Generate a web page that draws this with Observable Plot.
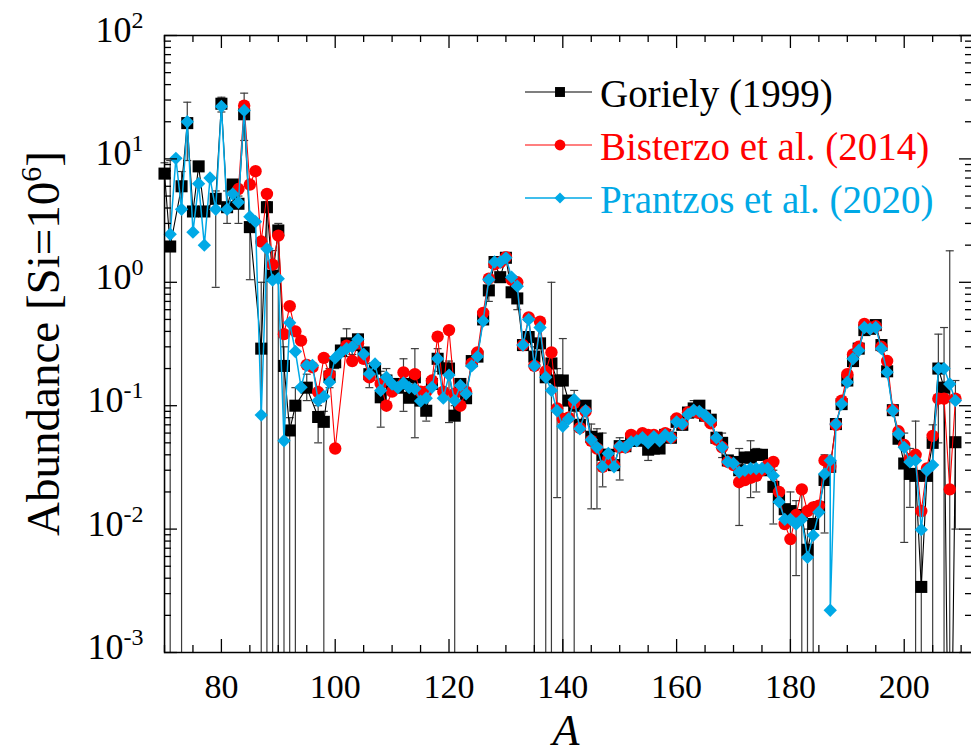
<!DOCTYPE html>
<html><head><meta charset="utf-8">
<script src="https://cdn.jsdelivr.net/npm/d3@7"></script>
<script src="https://cdn.jsdelivr.net/npm/@observablehq/plot@0.6"></script>
<style>
body{margin:0;background:#fff;}
#chart{width:971px;height:756px;overflow:hidden;}
svg{font-family:"Liberation Serif","Times New Roman",serif;}
</style></head><body><div id="chart"></div>
<script>
// ---- Goriely (1999) ----
const gA = [70,71,73,74,75,76,77,79,80,81,
  82,83,84,85,87,88,89,90,91,92,
  93,95,97,98,99,100,101,102,103,104,
  105,106,107,108,109,110,111,112,113,114,
  115,116,117,118,119,120,121,122,123,124,
  125,126,127,128,129,130,131,132,133,134,
  135,136,137,138,139,140,141,142,143,144,
  145,146,147,148,149,150,151,152,153,154,
  155,156,157,158,159,160,161,162,163,164,
  165,166,167,168,169,170,171,172,173,174,
  175,176,177,178,179,180,181,182,183,184,
  185,186,187,188,189,190,191,192,193,194,
  195,196,197,198,199,200,201,202,203,204,
  205,206,207,208,209];
const gV = [7.6,1.95,6.0,19.5,3.75,8.7,3.75,4.75,28,4.06,
  6.2,4.33,23,2.8,0.29,4.06,1.13,2.63,0.21,0.063,
  0.1,0.14,0.081,0.074,0.172,0.225,0.28,0.32,0.31,0.345,
  0.27,0.18,0.2,0.117,0.16,0.15,0.14,0.15,0.116,0.17,
  0.11,0.091,0.15,0.24,0.2,0.2,0.083,0.15,0.115,0.23,
  0.25,0.5,0.86,1.46,1.1,1.58,0.83,0.74,0.31,0.36,
  0.25,0.32,0.17,0.22,0.16,0.16,0.11,0.1,0.07,0.1,
  0.056,0.054,0.04,0.04,0.033,0.047,0.047,0.052,0.052,0.054,
  0.044,0.045,0.045,0.058,0.055,0.074,0.07,0.088,0.095,0.1,
  0.083,0.077,0.055,0.05,0.036,0.035,0.03,0.038,0.038,0.04,
  0.04,0.03,0.022,0.018,0.0145,0.014,0.013,0.013,0.0068,0.011,
  0.015,0.025,0.032,0.071,0.103,0.16,0.23,0.29,0.41,0.42,
  0.45,0.31,0.19,0.092,0.054,0.034,0.028,0.027,0.0034,0.027,
  0.05,0.2,0.14,0.00001,0.0506];
// Goriely uncertainties (lower, upper)
const eA = [70,71,73,74,79,80,81,83,84,85,
  87,88,89,90,91,92,93,95,97,98,
  99,100,102,103,106,108,109,112,114,116,
  118,120,121,127,129,132,135,137,138,139,
  140,142,145,146,147,150,155,163,168,171,
  173,174,177,180,181,182,183,184,186,200,
  201,202,203,205,206,207,208,209];
const eLo = [1e-5,1e-5,1e-5,9.7,0.91,24,3.0,3.0,14.1,1.05,
  1e-5,1e-5,1e-5,1e-5,1e-5,1e-5,1e-5,0.11,0.05,1e-5,
  0.14,0.2,0.25,0.26,0.14,0.067,0.14,0.09,0.055,0.075,
  0.19,0.073,1e-5,0.7,1.0,0.6,1e-5,1e-5,1e-5,0.018,
  1e-5,1e-5,0.0146,0.0146,0.022,0.025,0.036,0.08,0.038,0.0107,
  0.018,0.02,0.011,1e-5,0.0042,1e-5,1e-5,1e-5,0.0093,0.0078,
  0.015,1e-5,1e-5,1e-5,0.05,1e-5,1e-5,0.01];
const eHi = [9.3,9.7,7.9,28.8,5.5,31.6,5.5,5.0,34.1,3.5,
  1.0,4.5,1.81,3.0,0.3,0.08,0.14,0.18,0.1,0.09,
  0.2,0.25,0.42,0.35,0.22,0.19,0.2,0.24,0.29,0.11,
  0.29,0.23,0.1,1.0,1.2,0.9,0.3,0.2,1.0,0.2,
  0.35,0.133,0.071,0.065,0.06,0.055,0.05,0.11,0.06,0.045,
  0.052,0.045,0.03,0.02,0.017,0.02,0.01,0.015,0.04,0.06,
  0.045,0.075,0.01,0.07,0.38,0.43,1.8,0.16];
// ---- Bisterzo et al. (2014) ----
const bA = [83,84,85,86,87,88,89,90,91,92,
  93,94,95,96,97,98,99,100,102,103,
  104,105,106,108,109,110,112,114,115,116,
  117,118,119,120,121,122,123,124,125,126,
  127,128,129,130,131,132,133,134,135,136,
  137,138,139,140,141,142,143,144,145,146,
  147,148,149,150,151,152,153,154,155,156,
  157,158,159,160,161,162,163,164,165,166,
  167,168,169,170,171,172,173,174,175,176,
  177,178,179,180,181,182,183,184,185,186,
  187,188,189,190,191,192,193,194,195,196,
  197,198,199,200,201,202,203,204,205,206,
  207,208,209];
const bV = [5.7,27,6.2,7.95,2.14,5.2,1.39,2.39,0.38,0.64,
  0.40,0.337,0.214,0.205,0.129,0.244,0.179,0.045,0.307,0.23,
  0.32,0.24,0.17,0.15,0.1,0.13,0.186,0.18,0.13,0.13,
  0.16,0.363,0.13,0.41,0.125,0.10,0.13,0.22,0.27,0.565,
  1.07,1.4,1.45,1.6,1.05,1.0,0.31,0.52,0.21,0.48,
  0.19,0.27,0.095,0.078,0.08,0.105,0.066,0.09,0.052,0.045,
  0.032,0.037,0.033,0.046,0.046,0.058,0.055,0.06,0.058,0.058,
  0.054,0.06,0.055,0.079,0.071,0.088,0.09,0.087,0.082,0.072,
  0.053,0.046,0.035,0.033,0.024,0.025,0.026,0.027,0.03,0.033,
  0.035,0.02,0.011,0.0083,0.013,0.021,0.014,0.015,0.0155,0.036,
  0.032,0.07,0.11,0.18,0.26,0.30,0.46,0.43,0.44,0.30,
  0.23,0.093,0.062,0.048,0.037,0.04,0.014,0.031,0.057,0.114,
  0.114,0.021,0.114];
// ---- Prantzos et al. (2020) ----
const pA = [71,72,73,74,75,76,77,78,79,80,
  81,82,83,84,85,86,87,88,89,90,
  91,92,93,94,95,96,97,98,99,100,
  101,102,103,104,105,106,107,108,109,110,
  111,112,113,114,115,116,117,118,119,120,
  121,122,123,124,125,126,127,128,129,130,
  131,132,133,134,135,136,137,138,139,140,
  141,142,143,144,145,146,147,148,149,150,
  151,152,153,154,155,156,157,158,159,160,
  161,162,163,164,165,166,167,168,169,170,
  171,172,173,174,175,176,177,178,179,180,
  181,182,183,184,185,186,187,187,188,189,
  190,191,192,193,194,195,196,197,198,199,
  200,201,202,203,204,205,206,207,208,209];
const pV = [2.45,10.1,3.9,20,2.55,6.3,2.0,7.0,3.9,26.6,
  3.9,5.2,4.45,24.7,3.4,3.1,0.084,1.87,1.04,1.07,
  0.052,0.47,0.275,0.141,0.212,0.212,0.11,0.119,0.155,0.244,
  0.27,0.29,0.30,0.345,0.262,0.181,0.218,0.133,0.17,0.15,
  0.14,0.153,0.14,0.137,0.109,0.115,0.141,0.24,0.115,0.177,
  0.11,0.146,0.125,0.21,0.25,0.485,1.05,1.46,1.46,1.58,
  1.1,0.93,0.31,0.5,0.21,0.43,0.17,0.133,0.091,0.068,
  0.078,0.112,0.065,0.091,0.053,0.046,0.032,0.041,0.032,0.047,
  0.046,0.051,0.052,0.055,0.05,0.056,0.052,0.058,0.055,0.074,
  0.071,0.085,0.092,0.09,0.084,0.076,0.055,0.046,0.035,0.034,
  0.029,0.03,0.031,0.031,0.031,0.031,0.027,0.0166,0.012,0.012,
  0.011,0.012,0.0059,0.0089,0.0137,0.028,0.036,0.0022,0.071,0.103,
  0.155,0.24,0.28,0.43,0.42,0.43,0.29,0.187,0.091,0.059,
  0.046,0.035,0.036,0.0099,0.03,0.033,0.2,0.2,0.15,0.11];

// ---- ticks & labels ----
const xMajor = [80,100,120,140,160,180,200];
const xMinor = [70,75,85,90,95,105,110,115,125,130,135,145,150,155,165,170,175,185,190,195,205,210];
const yMajor = [1e-3,1e-2,1e-1,1e0,1e1,1e2];
const yMinorFactors = [2,3,4,5,6,7,8,9];
const legendLabels = ["Goriely (1999)","Bisterzo et al. (2014)","Prantzos et al. (2020)"];
const xTitle = "A";
const yTitle = "Abundance [Si=10";

const RED = "#ff0000", BLUE = "#00a9e6", ERR = "#3c3c3c";
const W = 971, H = 756, mL = 164, mR = -1, mT = 35, mB = 104;
const fw = W - mL - mR, fh = H - mT - mB;
const yMinor = yMajor.slice(0, -1).flatMap(d => yMinorFactors.map(k => k * d));

const goriely = gA.map((a, i) => ({A: a, v: gV[i]}));
const bisterzo = bA.map((a, i) => ({A: a, v: bV[i]}));
const prantzos = pA.map((a, i) => ({A: a, v: pV[i]}));
const errs = eA.map((a, i) => ({A: a, lo: eLo[i], hi: eHi[i]}));
const cap = {draw(ctx) { ctx.moveTo(-4, 0); ctx.lineTo(4, 0); }};
const inDom = v => v >= 1e-3 && v <= 1e2;

const chart = Plot.plot({
  width: W, height: H,
  marginLeft: mL, marginRight: mR, marginTop: mT, marginBottom: mB,
  style: {fontFamily: "Liberation Serif, Times New Roman, serif", background: "white", color: "black", overflow: "hidden"},
  x: {domain: [70, 212]},
  y: {type: "log", domain: [1e-3, 1e2]},
  marks: [
    Plot.ruleX(errs, {x: "A", y1: "lo", y2: "hi", stroke: ERR, strokeWidth: 1.2, clip: true}),
    Plot.dot(errs.filter(d => inDom(d.hi)), {x: "A", y: "hi", symbol: cap, fill: "none", stroke: ERR, strokeWidth: 1.2}),
    Plot.dot(errs.filter(d => inDom(d.lo)), {x: "A", y: "lo", symbol: cap, fill: "none", stroke: ERR, strokeWidth: 1.2}),
    Plot.line(goriely, {x: "A", y: "v", stroke: "black", strokeWidth: 1.1, clip: true}),
    Plot.dot(goriely.filter(d => inDom(d.v)), {x: "A", y: "v", symbol: "square", r: 6.8, fill: "black", stroke: "none"}),
    Plot.line(bisterzo, {x: "A", y: "v", stroke: RED, strokeWidth: 1.1, clip: true}),
    Plot.dot(bisterzo, {x: "A", y: "v", symbol: "circle", r: 6.2, fill: RED, stroke: "none"}),
    Plot.line(prantzos, {x: "A", y: "v", stroke: BLUE, strokeWidth: 1.5, clip: true}),
    Plot.dot(prantzos, {x: "A", y: "v", symbol: "diamond2", r: 6.0, fill: BLUE, stroke: "none"}),
    Plot.frame({stroke: "black", strokeWidth: 1.5}),
    Plot.tickX(xMajor, {x: d => d, insetTop: fh - 13, stroke: "black", strokeWidth: 1.3}),
    Plot.tickX(xMajor, {x: d => d, insetBottom: fh - 13, stroke: "black", strokeWidth: 1.3}),
    Plot.tickX(xMinor, {x: d => d, insetTop: fh - 7, stroke: "black", strokeWidth: 1.3}),
    Plot.tickX(xMinor, {x: d => d, insetBottom: fh - 7, stroke: "black", strokeWidth: 1.3}),
    Plot.tickY(yMajor, {y: d => d, insetRight: fw - 13, stroke: "black", strokeWidth: 1.3}),
    Plot.tickY(yMajor, {y: d => d, insetLeft: fw - 13, stroke: "black", strokeWidth: 1.3}),
    Plot.tickY(yMinor, {y: d => d, insetRight: fw - 7, stroke: "black", strokeWidth: 1.3}),
    Plot.tickY(yMinor, {y: d => d, insetLeft: fw - 7, stroke: "black", strokeWidth: 1.3}),
    Plot.axisX({ticks: xMajor, tickSize: 0, tickPadding: 21, fontSize: 34, label: null, tickFormat: d => String(d)}),
    Plot.axisY({ticks: yMajor, tickSize: 0, tickPadding: 21, fontSize: 36, label: null, dy: -5,
      tickFormat: d => "10^" + Math.round(Math.log10(d))})
  ]
});
document.getElementById("chart").appendChild(chart);

const svg = d3.select(chart);
// superscript exponents on the y tick labels
svg.selectAll('g[aria-label="y-axis tick label"] text').each(function() {
  const m = this.textContent.match(/^10\^(-?\d+)$/);
  if (!m) return;
  const t = d3.select(this);
  t.text(null);
  t.append("tspan").text("10");
  t.append("tspan").attr("dy", -14).attr("font-size", 24).text(m[1]);
});

// y title
const yt = svg.append("text")
  .attr("transform", `translate(59,${mT + fh / 2}) rotate(-90)`)
  .attr("text-anchor", "middle").attr("font-size", 47).attr("fill", "black");
yt.append("tspan").text(yTitle);
yt.append("tspan").attr("dy", -18).attr("font-size", 30).text("6");
yt.append("tspan").attr("dy", 18).text("]");

// x title
svg.append("text").attr("x", 566).attr("y", 745).attr("text-anchor", "middle")
  .attr("font-size", 44).attr("font-style", "italic").attr("fill", "black").text(xTitle);

// legend
const legendStyles = [
  {color: "black", sym: d3.symbolSquare, r: 5.6, w: 1.1},
  {color: RED, sym: d3.symbolCircle, r: 5.4, w: 1.1},
  {color: BLUE, sym: d3.symbolDiamond2, r: 5.0, w: 1.5}
];
legendLabels.forEach((lab, i) => {
  const s = legendStyles[i];
  const y = 92 + 53 * i;
  const g = svg.append("g");
  g.append("line").attr("x1", 525).attr("x2", 592).attr("y1", y).attr("y2", y)
    .attr("stroke", s.color).attr("stroke-width", s.w);
  g.append("path").attr("transform", `translate(560,${y})`)
    .attr("d", d3.symbol(s.sym, Math.PI * s.r * s.r)()).attr("fill", s.color);
  g.append("text").attr("x", 600).attr("y", y + 15).attr("font-size", 39)
    .attr("text-anchor", "start").attr("fill", s.color).text(lab);
});
</script>
</body></html>
